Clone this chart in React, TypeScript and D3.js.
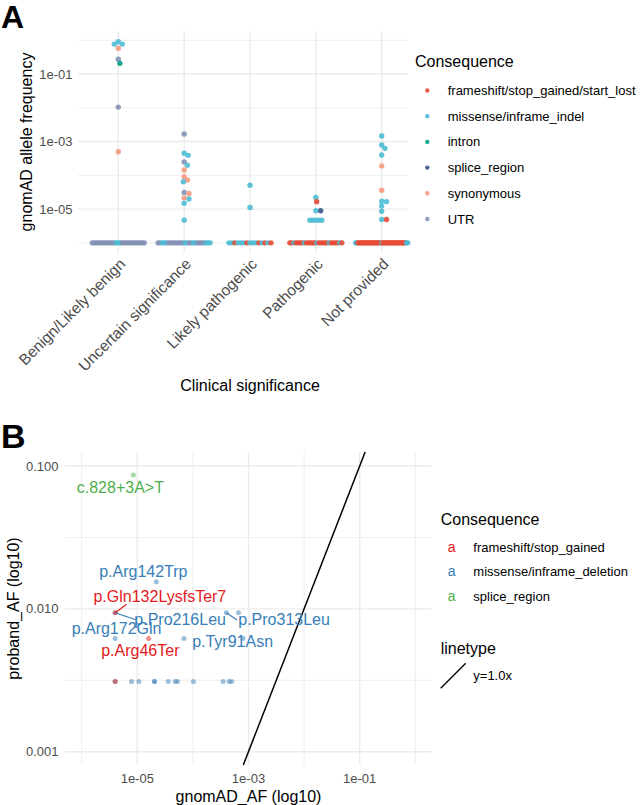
import React from 'react';
import * as d3 from 'd3';

const FONT = "'Liberation Sans', Arial, Helvetica, sans-serif";

// ---------------- Panel A data ----------------
const categories = ['Benign/Likely benign', 'Uncertain significance', 'Likely pathogenic', 'Pathogenic', 'Not provided'];
const consequenceCodesA = ['F', 'M', 'I', 'S', 'Y', 'U'];
const consequenceLabelsA = ['frameshift/stop_gained/start_lost', 'missense/inframe_indel', 'intron', 'splice_region', 'synonymous', 'UTR'];
const consequenceColorsA = ['#E64B35', '#4DBBD5', '#00A087', '#3C5488', '#F39B7F', '#8491B4'];

const AF_FLOOR = 1e-6;

const benignPoints: [number, string][] = [[0.906, 'M'], [0.77, 'M'], [0.77, 'M'], [0.577, 'Y'], [0.273, 'U'], [0.207, 'I'], [0.0105, 'U'], [5.0e-4, 'Y']];
const uncertainPoints: [number, string][] = [[1.67e-3, 'U'], [4.5e-4, 'M'], [3.9e-4, 'M'], [2.5e-4, 'U'], [2.0e-4, 'M'], [1.44e-4, 'Y'], [9.1e-5, 'Y'], [7.3e-5, 'Y'], [6.5e-5, 'M'], [3.1e-5, 'U'], [2.9e-5, 'Y'], [2.15e-5, 'Y'], [2.0e-5, 'M'], [1.49e-5, 'M'], [4.7e-6, 'M']];
const likelyPathPoints: [number, string][] = [[5.1e-5, 'M'], [1.12e-5, 'M']];
const pathogenicPoints: [number, string][] = [[2.2e-5, 'M'], [1.66e-5, 'F'], [8.9e-6, 'M'], [8.9e-6, 'S'], [4.7e-6, 'M'], [4.7e-6, 'M'], [4.7e-6, 'M'], [4.7e-6, 'M'], [4.7e-6, 'M']];
const notProvidedPoints: [number, string][] = [[1.46e-3, 'M'], [7.9e-4, 'M'], [6.3e-4, 'M'], [4.0e-4, 'M'], [1.9e-4, 'Y'], [3.6e-5, 'Y'], [1.7e-5, 'M'], [1.66e-5, 'M'], [1.23e-5, 'M'], [8.7e-6, 'M'], [4.9e-6, 'M'], [4.9e-6, 'F']];

// variants absent from gnomAD (plotted at the floor), consequence per variant
const benignFloor = 'UUUUUUUUUUUUMMMUUUUUUUUUUUU';
const uncertainFloor = 'UUMMMUUUUUUUUMMUUMMUUUUMMM';
const likelyPathFloor = 'MMFMMMFMMMFMFMF';
const pathogenicFloor = 'FFMFFFFMFFFFFMFFFFFMFFFFMF';
const notProvidedFloor = 'MM' + 'FFFFFFFFFFFFFFFFFFFF' + 'M' + 'FFFFFFFFFFFFFFFFFFFF' + 'MM';

const aPointsByCategory = [benignPoints, uncertainPoints, likelyPathPoints, pathogenicPoints, notProvidedPoints];
const aFloorByCategory = [benignFloor, uncertainFloor, likelyPathFloor, pathogenicFloor, notProvidedFloor];

const aYMajor = [1e-5, 1e-3, 1e-1];
const aYMajorLabels = ['1e-05', '1e-03', '1e-01'];
const aYMinor = [1e-6, 1e-4, 1e-2, 1];

// ---------------- Panel B data ----------------
const consequenceLabelsB = ['frameshift/stop_gained', 'missense/inframe_deletion', 'splice_region'];
const consequenceColorsB = ['#E41A1C', '#377EB8', '#4DAF4A'];

const bGnomad = [8.5e-6, 2.2e-5, 4e-6, 4e-4, 6.6e-4, 4e-6, 6.9e-5, 8e-4, 1.6e-5, 4e-6,
  4e-6, 7.9e-6, 1.07e-5, 2.04e-5, 2.04e-5, 3.6e-5, 4.8e-5, 5.3e-5, 1.02e-4, 3.5e-4, 4.5e-4, 5e-4, 4e-6];
const bProband = [0.0865, 0.0155, 0.0094, 0.0094, 0.0094, 0.0062, 0.0062, 0.0062, 0.0062, 0.0094,
  0.0031, 0.0031, 0.0031, 0.0031, 0.0031, 0.0031, 0.0031, 0.0031, 0.0031, 0.0031, 0.0031, 0.0031, 0.0031];
const bConsequence = [2, 1, 1, 1, 1, 1, 1, 1, 0, 0,
  1, 1, 1, 1, 1, 1, 1, 1, 1, 1, 1, 1, 0];
const bLabels = ['c.828+3A>T', 'p.Arg142Trp', 'p.Pro216Leu', 'p.Pro313Leu', '', 'p.Arg172Gln', '', 'p.Tyr91Asn', 'p.Arg46Ter', 'p.Gln132LysfsTer7',
  '', '', '', '', '', '', '', '', '', '', '', '', ''];

// repel placement of labels (pixel offsets from the point: text centre x, baseline y, optional segment end)
const bLabelNudge: ([number, number] | [number, number, number, number] | null)[] = [
  [-13, 17.7], [-13, -5], [65, 12.3, 21.4, 7.3], [57.7, 12.3, 10.7, 7.3], null, [1.4, -4.8], null, [-10.5, 8.7], [-8.3, 17.2], [44.7, -10.7, 11.4, -8.4],
  null, null, null, null, null, null, null, null, null, null, null, null, null,
];

const bXMajor = [1e-5, 1e-3, 1e-1];
const bXMajorLabels = ['1e-05', '1e-03', '1e-01'];
const bXMinor = [1e-6, 1e-4, 1e-2, 1];
const bYMajor = [0.1, 0.01, 0.001];
const bYMajorLabels = ['0.100', '0.010', '0.001'];
const bYMinor = [Math.pow(10, -1.5), Math.pow(10, -2.5)];

// ---------------- geometry ----------------
const A = { left: 78, right: 408, top: 31, bottom: 253 };
const B = { left: 65, right: 431.7, top: 452, bottom: 765 };

const yA = d3.scaleLog().domain([Math.pow(10, -6.3), Math.pow(10, 0.274)]).range([A.bottom, A.top]);
const xA = d3.scalePoint<string>().domain(categories).range([118.3, 381.7]);
const colorA = d3.scaleOrdinal<string, string>().domain(consequenceCodesA).range(consequenceColorsA);

const xB = d3.scaleLog().domain([Math.pow(10, -6.3), Math.pow(10, 0.295)]).range([B.left, B.right]);
const yB = d3.scaleLog().domain([Math.pow(10, -3.093), Math.pow(10, -0.902)]).range([B.bottom, B.top]);

type P = { x: number; y: number; c: string; i: number };

function swarm(points: [number, string][], floor: string, cx: number): P[] {
  const all: { af: number; c: string; i: number }[] = [];
  points.forEach(([af, c], i) => all.push({ af, c, i }));
  floor.split('').forEach((c, j) => all.push({ af: AF_FLOOR, c, i: points.length + j }));
  const groups = d3.group(all, (d) => d.af);
  const placed: P[] = [];
  const rest: typeof all = [];
  groups.forEach((arr, af) => {
    if (arr.length >= 4) {
      const n = arr.length;
      const sp = Math.min(3.0, 52 / (n - 1));
      arr.forEach((d, k) => placed.push({ x: cx + (k - (n - 1) / 2) * sp, y: yA(af), c: d.c, i: d.i }));
    } else rest.push(...arr);
  });
  rest.sort((a, b) => b.af - a.af || a.i - b.i);
  const minD = 4.2;
  rest.forEach((d) => {
    const y = yA(d.af);
    for (let k = 0; k < 60; k++) {
      const off = k === 0 ? 0 : (k % 2 === 1 ? 1 : -1) * Math.ceil(k / 2) * 0.8;
      const x = cx + off;
      if (placed.every((p) => Math.hypot(p.x - x, p.y - y) >= minD)) {
        placed.push({ x, y, c: d.c, i: d.i });
        break;
      }
    }
  });
  return placed.sort((a, b) => a.i - b.i);
}

const GRID = '#EBEBEB';
const TICK = '#4D4D4D';

function PanelA() {
  const pts = categories.flatMap((cat, ci) => swarm(aPointsByCategory[ci], aFloorByCategory[ci], xA(cat)!));
  return (
    <g>
      <text x={1} y={28} fontSize={32} fontWeight="bold" fontFamily={FONT}>A</text>
      {aYMinor.map((v) => (
        <line key={'mn' + v} x1={A.left} x2={A.right} y1={yA(v)} y2={yA(v)} stroke={GRID} strokeWidth={0.8} />
      ))}
      {aYMajor.map((v) => (
        <line key={'mj' + v} x1={A.left} x2={A.right} y1={yA(v)} y2={yA(v)} stroke={GRID} strokeWidth={1.4} />
      ))}
      {categories.map((c) => (
        <line key={c} x1={xA(c)} x2={xA(c)} y1={A.top} y2={A.bottom} stroke={GRID} strokeWidth={1.4} />
      ))}
      {pts.map((p, k) => (
        <circle key={k} cx={p.x} cy={p.y} r={2.7} fill={colorA(p.c)} fillOpacity={0.9} />
      ))}
      {aYMajor.map((v, k) => (
        <text key={'yl' + v} x={72.5} y={yA(v)} dy="0.35em" textAnchor="end" fontSize={13} fill={TICK} fontFamily={FONT}>
          {aYMajorLabels[k]}
        </text>
      ))}
      {categories.map((c) => (
        <text key={'xl' + c} transform={`translate(${xA(c)! + 8},${265}) rotate(-45)`} textAnchor="end" fontSize={15.5} fill={TICK} fontFamily={FONT}>
          {c}
        </text>
      ))}
      <text x={250} y={391} textAnchor="middle" fontSize={16} fontFamily={FONT}>Clinical significance</text>
      <text transform={`translate(32,${(A.top + A.bottom) / 2}) rotate(-90)`} textAnchor="middle" fontSize={16} fontFamily={FONT}>
        gnomAD allele frequency
      </text>
      {/* legend */}
      <text x={415} y={67.3} fontSize={16} fontFamily={FONT}>Consequence</text>
      {consequenceLabelsA.map((l, k) => (
        <g key={l}>
          <circle cx={427.3} cy={95 + k * 25.7 - 4.5} r={2.2} fill={consequenceColorsA[k]} fillOpacity={0.9} />
          <text x={447.7} y={95 + k * 25.7} fontSize={13} fontFamily={FONT}>{l}</text>
        </g>
      ))}
    </g>
  );
}

function PanelB() {
  const idx = d3.range(bGnomad.length);
  // draw other consequences first, frameshift last
  const order = [...idx.filter((i) => bConsequence[i] !== 0), ...idx.filter((i) => bConsequence[i] === 0)];
  const lineData: [number, number][] = [[Math.pow(10, -3.093), Math.pow(10, -3.093)], [Math.pow(10, -0.902), Math.pow(10, -0.902)]];
  const line = d3.line<[number, number]>().x((d) => xB(d[0])).y((d) => yB(d[1]));
  return (
    <g>
      <text x={1} y={448} fontSize={34} fontWeight="bold" fontFamily={FONT}>B</text>
      {bYMinor.map((v) => (
        <line key={'ymn' + v} x1={B.left} x2={B.right} y1={yB(v)} y2={yB(v)} stroke={GRID} strokeWidth={0.8} />
      ))}
      {bXMinor.map((v) => (
        <line key={'xmn' + v} x1={xB(v)} x2={xB(v)} y1={B.top} y2={B.bottom} stroke={GRID} strokeWidth={0.8} />
      ))}
      {bYMajor.map((v) => (
        <line key={'ymj' + v} x1={B.left} x2={B.right} y1={yB(v)} y2={yB(v)} stroke={GRID} strokeWidth={1.4} />
      ))}
      {bXMajor.map((v) => (
        <line key={'xmj' + v} x1={xB(v)} x2={xB(v)} y1={B.top} y2={B.bottom} stroke={GRID} strokeWidth={1.4} />
      ))}
      <path d={line(lineData)!} stroke="#000" strokeWidth={1.5} fill="none" />
      {order.map((i) => (
        <circle key={'p' + i} cx={xB(bGnomad[i])} cy={yB(bProband[i])} r={2.5} fill={consequenceColorsB[bConsequence[i]]} fillOpacity={0.5} />
      ))}
      {idx.map((i) => {
        const n = bLabelNudge[i];
        if (!n || n.length < 4) return null;
        const px = xB(bGnomad[i]);
        const py = yB(bProband[i]);
        return <line key={'s' + i} x1={px} y1={py} x2={px + n[2]!} y2={py + n[3]!} stroke={consequenceColorsB[bConsequence[i]]} strokeWidth={1.2} />;
      })}
      {idx.map((i) => {
        const n = bLabelNudge[i];
        if (!n || !bLabels[i]) return null;
        return (
          <text key={'l' + i} x={xB(bGnomad[i]) + n[0]} y={yB(bProband[i]) + n[1]} textAnchor="middle" fontSize={16} fill={consequenceColorsB[bConsequence[i]]} fontFamily={FONT}>
            {bLabels[i]}
          </text>
        );
      })}
      {bYMajor.map((v, k) => (
        <text key={'yl' + v} x={58.5} y={yB(v)} dy="0.35em" textAnchor="end" fontSize={13} fill={TICK} fontFamily={FONT}>
          {bYMajorLabels[k]}
        </text>
      ))}
      {bXMajor.map((v, k) => (
        <text key={'xl' + v} x={xB(v)} y={783.3} textAnchor="middle" fontSize={13} fill={TICK} fontFamily={FONT}>
          {bXMajorLabels[k]}
        </text>
      ))}
      <text x={248.5} y={801.5} textAnchor="middle" fontSize={16} fontFamily={FONT}>gnomAD_AF (log10)</text>
      <text transform={`translate(19,${(B.top + B.bottom) / 2}) rotate(-90)`} textAnchor="middle" fontSize={16} fontFamily={FONT}>
        proband_AF (log10)
      </text>
      {/* legend */}
      <text x={440.7} y={525} fontSize={16} fontFamily={FONT}>Consequence</text>
      {consequenceLabelsB.map((l, k) => (
        <g key={l}>
          <text x={451.7} y={551.7 + k * 24.7} textAnchor="middle" fontSize={14} fill={consequenceColorsB[k]} fontFamily={FONT}>a</text>
          <text x={473.3} y={551.7 + k * 24.7} fontSize={13} fontFamily={FONT}>{l}</text>
        </g>
      ))}
      <text x={440.7} y={654} fontSize={16} fontFamily={FONT}>linetype</text>
      <line x1={440.7} y1={688.3} x2={465.7} y2={663.3} stroke="#000" strokeWidth={1.3} />
      <text x={473.3} y={680} fontSize={13} fontFamily={FONT}>y=1.0x</text>
    </g>
  );
}

export default function App() {
  return (
    <svg width={640} height={805} viewBox="0 0 640 805" style={{ position: 'absolute', left: 0, top: 0, background: '#fff' }}>
      <rect x={0} y={0} width={640} height={805} fill="#fff" />
      <PanelA />
      <PanelB />
    </svg>
  );
}
